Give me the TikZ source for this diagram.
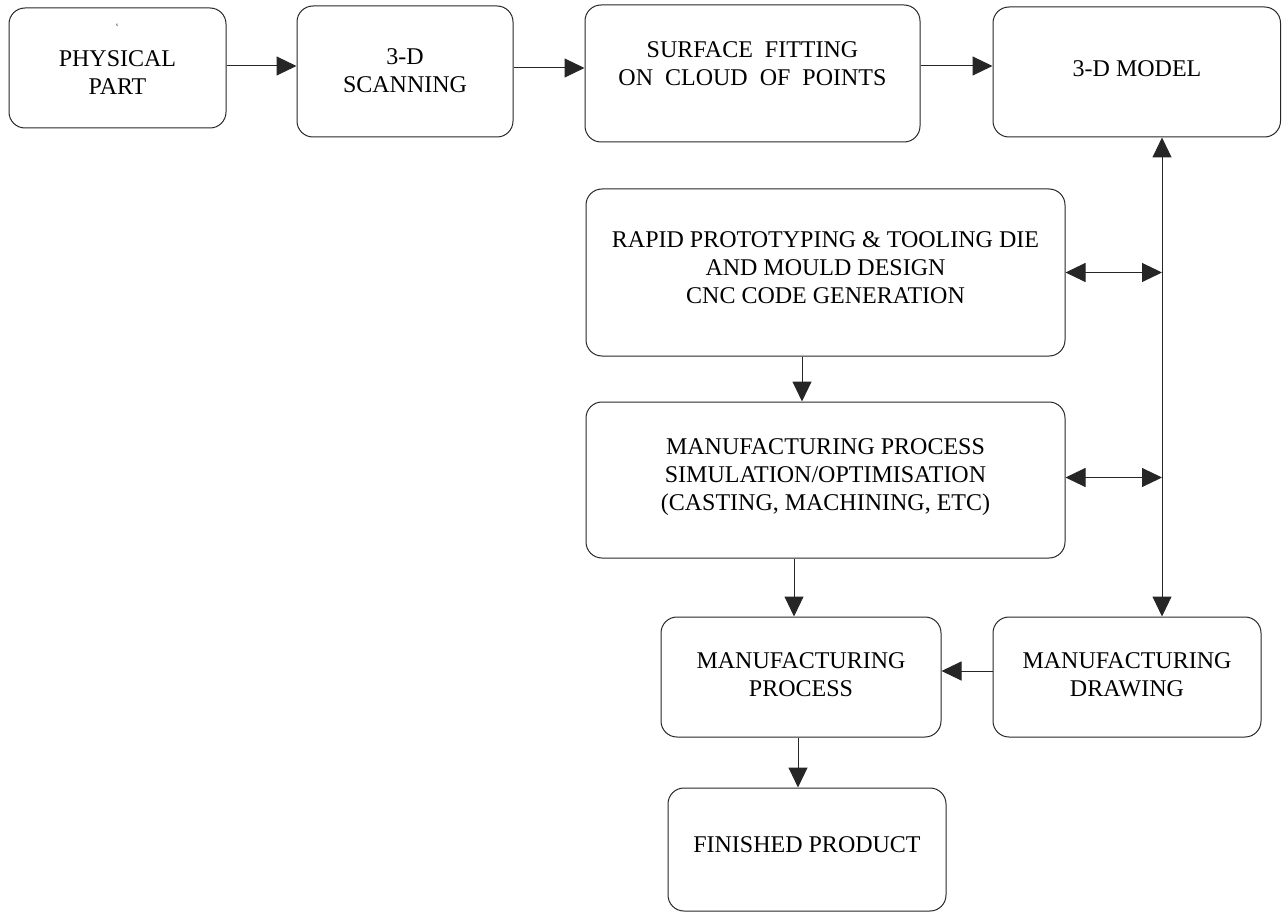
\documentclass[tikz,border=0pt]{standalone}
\usepackage{fontspec}
\setmainfont{Liberation Serif}
\usetikzlibrary{arrows.meta}
\begin{document}
\begin{tikzpicture}[x=1pt,y=-1pt,
  box/.style={draw=black!85, line width=1pt, rounded corners=16pt, inner sep=0pt},
  lbl/.style={align=center, font=\fontsize{24}{28}\selectfont, inner sep=0pt},
  tiny/.style={font=\fontsize{5}{6}\selectfont, inner sep=0pt},
  arr/.style={draw=black!85, line width=1pt, -{Triangle[length=20pt,width=19pt]}},
  darr/.style={draw=black!85, line width=1pt, {Triangle[length=20pt,width=19pt]}-{Triangle[length=20pt,width=19pt]}}]
\useasboundingbox (0,0) rectangle (1282,912);
% boxes
\node[box, minimum width=217pt, minimum height=120pt] (pp) at (117.5,68) {};
\node[box, minimum width=216pt, minimum height=131pt] (scan) at (405,71.5) {};
\node[box, minimum width=335pt, minimum height=137pt] (surf) at (752.5,73.5) {};
\node[box, minimum width=287.5pt, minimum height=130pt] (model) at (1136.75,72) {};
\node[box, minimum width=479pt, minimum height=167pt] (rapid) at (825.5,272.5) {};
\node[box, minimum width=479pt, minimum height=156pt] (sim) at (825.5,480) {};
\node[box, minimum width=280pt, minimum height=120pt] (mproc) at (801,677) {};
\node[box, minimum width=268pt, minimum height=120pt] (mdraw) at (1127,677) {};
\node[box, minimum width=278pt, minimum height=123pt] (fin) at (807,849.5) {};
% texts
\node[tiny] (pps) at (117,25) {s};
\node[lbl] (ppt) at (117.5,73) {PHYSICAL\\PART};
\node[lbl] (scant) at (405,71) {3-D\\SCANNING};
\node[lbl] (surft) at (752.5,63.5) {SURFACE\ \ FITTING\\ON\ \ CLOUD\ \ OF\ \ POINTS};
\node[lbl] (modelt) at (1137,68.5) {3-D MODEL};
\node[lbl] (rapidt) at (825.5,268) {RAPID PROTOTYPING \& TOOLING DIE\\AND MOULD DESIGN\\CNC CODE GENERATION};
\node[lbl] (simt) at (825.5,477.5) {MANUFACTURING PROCESS\\SIMULATION/OPTIMISATION\\(CASTING, MACHINING, ETC)};
\node[lbl] (mproct) at (801,674.5) {MANUFACTURING\\PROCESS};
\node[lbl] (mdrawt) at (1127,675) {MANUFACTURING\\DRAWING};
\node[lbl] (fint) at (807,844.5) {FINISHED PRODUCT};
% connectors
\coordinate (vx) at (1162,300);
\draw[arr] ([yshift=2pt]pp.east) -- ([yshift=2pt]pp.east -| scan.west);
\draw[arr] ([yshift=3.5pt]scan.east) -- ([yshift=3.5pt]scan.east -| surf.west);
\draw[arr] ([yshift=7.5pt]surf.east) -- ([yshift=7.5pt]surf.east -| model.west);
\draw[darr] (vx |- model.south) -- (vx |- mdraw.north);
\draw[darr] (rapid.east) -- (rapid.east -| vx);
\draw[darr] ([yshift=2.5pt]sim.east) -- ([yshift=2.5pt]sim.east -| vx);
\draw[arr] ([xshift=-23.5pt]rapid.south) -- ([xshift=-23.5pt]rapid.south |- sim.north);
\draw[arr] ([xshift=-7pt]mproc.north |- sim.south) -- ([xshift=-7pt]mproc.north);
\draw[arr] ([yshift=6pt]mdraw.west) -- ([yshift=6pt]mdraw.west -| mproc.east);
\draw[arr] ([xshift=-3pt]mproc.south) -- ([xshift=-3pt]mproc.south |- fin.north);
\end{tikzpicture}
\end{document}
